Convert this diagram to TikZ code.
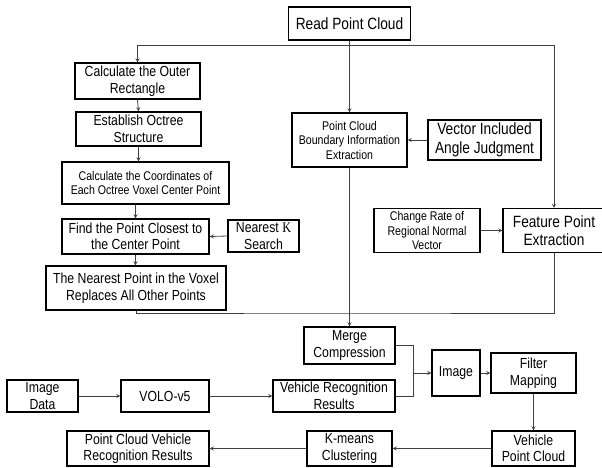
\documentclass[tikz,border=0pt]{standalone}
\usepackage{fontspec}
\setmainfont[FakeStretch=0.84]{Liberation Sans}
\newfontfamily\kfont[FakeStretch=0.84]{Liberation Serif}
\usetikzlibrary{calc,arrows}

\begin{document}
\begin{tikzpicture}[x=1pt,y=-1pt,>=stealth,
		box/.style={draw, line width=1.3pt, align=center, inner sep=0pt,
			font=\fontsize{14.6}{16.5}\selectfont},
		bigbox/.style={box, font=\fontsize{16.3}{18.5}\selectfont},
		smallbox/.style={box, font=\fontsize{12.6}{14.5}\selectfont},
		wh/.style 2 args={minimum width=#1pt, minimum height=#2pt},
		line/.style={line width=0.8pt, draw=black!75}]

		\useasboundingbox (0,0) rectangle (602,467);

		% Top
		\node [bigbox, wh={122}{33}] (read) at (349.5,23.5) {Read Point Cloud};

		% Left column
		\node [box, wh={125}{36}] (outer) at (137.5,81) {Calculate the Outer\\Rectangle};
		\node [box, wh={125}{34}] (octree) at (138.5,129) {Establish Octree\\Structure};
		\node [smallbox, wh={167}{42}] (coords) at (145.5,183) {Calculate the Coordinates of\\Each Octree Voxel Center Point};
		\node [box, wh={147}{35}] (find) at (135.5,236.5) {Find the Point Closest to\\the Center Point};
		\node [box, wh={71}{32}] (ksearch) at (263.5,236) {Nearest {\kfont K}\\Search};
		\node [box, wh={180}{44}] (nearest) at (136,288) {The Nearest Point in the Voxel\\Replaces All Other Points};

		% Middle and right
		\node [smallbox, wh={115}{54}] (bound) at (349.5,140) {Point Cloud\\Boundary Information\\Extraction};
		\node [bigbox, wh={113}{40}] (vector) at (484.5,140) {Vector Included\\Angle Judgment};
		\node [smallbox, wh={106}{44}] (change) at (427,230.5) {Change Rate of\\Regional Normal\\Vector};
		\node [bigbox, wh={102}{44}] (feat) at (554,230.5) {Feature Point\\Extraction};

		% Bottom
		\node [box, wh={91}{37}] (merge) at (349.5,345.5) {Merge\\Compression};
		\node [box, wh={122}{32}] (recog) at (334,396) {Vehicle Recognition\\Results};
		\node [box, wh={48}{46}] (image) at (456,373) {Image};
		\node [box, wh={85}{40}] (filter) at (533.5,373) {Filter\\Mapping};
		\node [box, wh={83}{35}] (vpc) at (533.5,448.5) {Vehicle\\Point Cloud};
		\node [box, wh={85}{35}] (kmeans) at (349.5,448.5) {K-means\\Clustering};
		\node [box, wh={142}{35}] (pcvr) at (138,448.5) {Point Cloud Vehicle\\Recognition Results};
		\node [box, wh={71}{32}] (imgdata) at (42.5,396) {Image\\Data};
		\node [box, wh={88}{32}] (volo) at (165,396) {VOLO-v5};

		\coordinate (split) at (349.5,45);
		\coordinate (join) at (349.5,313);
		\coordinate (mj) at (413,373);

		% read splits three ways
		\draw [line] (read.south) -- (split);
		\draw [line, ->] (split) -| (outer.north);
		\draw [line, ->] (split) -- (bound.north);
		\draw [line, ->] (split) -| (feat.north);

		% octree chain
		\draw [line, ->] (outer.south) -- (octree.north);
		\draw [line, ->] (octree.south) -- (octree.south |- coords.north);
		\draw [line, ->] (find.north |- coords.south) -- (find.north);
		\draw [line, ->] (find.south) -- (find.south |- nearest.north);
		\draw [line, ->] (ksearch.west) -- (find.east);

		% boundary and feature points
		\draw [line, ->] (vector.west) -- (bound.east);
		\draw [line, ->] (change.east) -- (feat.west);
		\draw [line] (nearest.south) |- (join) -| (feat.south);
		\draw [line, ->] (bound.south) -- (merge.north);

		% fusion
		\draw [line] (merge.east) -| (mj);
		\draw [line] (recog.east) -| (mj);
		\draw [line, ->] (mj) -- (image.west);
		\draw [line, ->] (image.east) -- (filter.west);
		\draw [line, ->] (filter.south) -- (vpc.north);
		\draw [line, ->] (vpc.west) -- (kmeans.east);
		\draw [line, ->] (kmeans.west) -- (pcvr.east);
		\draw [line, ->] (imgdata.east) -- (volo.west);
		\draw [line, ->] (volo.east) -- (recog.west);

	\end{tikzpicture}
\end{document}
